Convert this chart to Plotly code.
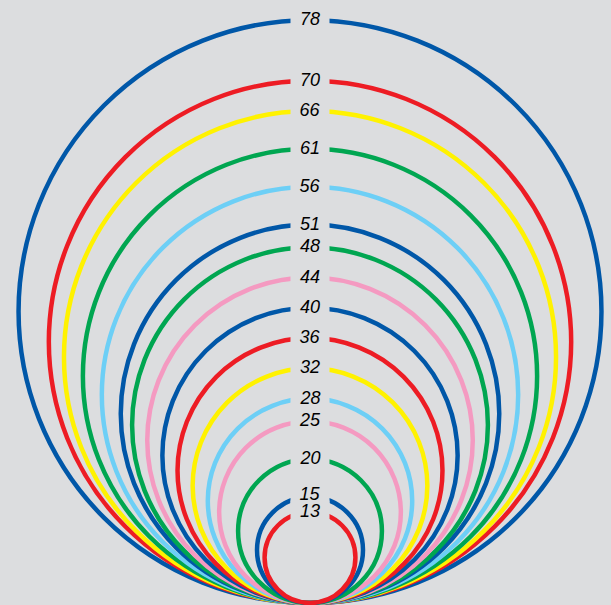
import plotly.graph_objects as go

# values of the nested circles, outermost first
values = [78, 70, 66, 61, 56, 51, 48, 44, 40, 36, 32, 28, 25, 20, 15, 13]
colors = ["#0057a8", "#ed1c24", "#fff200", "#00a651", "#6dcff6", "#0057a8",
          "#00a651", "#f49ac1", "#0057a8", "#ed1c24", "#fff200", "#6dcff6",
          "#f49ac1", "#00a651", "#0057a8", "#ed1c24"]
labels = [str(v) for v in values]

base = 1  # all circles touch at the bottom
bg = "#dcdddf"

fig = go.Figure()

for v, c, lab in zip(values, colors, labels):
    r = (v - base) / 2
    fig.add_shape(type="circle", xref="x", yref="y",
                  x0=-r, x1=r, y0=base, y1=v,
                  line=dict(color=c, width=4.5))
    fig.add_annotation(x=0, y=v, text=lab, showarrow=False,
                       xanchor="center", yanchor="middle",
                       yshift=3 if v == 15 else 1,
                       width=38, height=20, bgcolor=bg, borderpad=0,
                       font=dict(family="Liberation Sans", size=18, color="black",
                                 style="italic"))

fig.update_xaxes(range=[-40.95, 39.76], visible=False, fixedrange=True)
fig.update_yaxes(range=[0.736, 80.66], visible=False, fixedrange=True)
fig.update_layout(width=611, height=605, margin=dict(l=0, r=0, t=0, b=0),
                  paper_bgcolor=bg, plot_bgcolor=bg, showlegend=False)

fig.write_html("out.html", config={"displayModeBar": False},
               post_script="document.body.style.margin='0';")
